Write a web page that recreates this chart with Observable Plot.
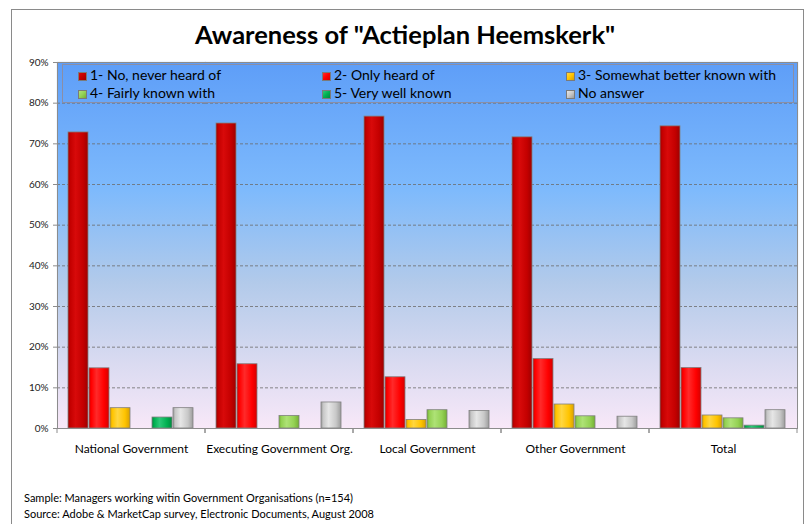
<!DOCTYPE html>
<html><head><meta charset="utf-8">
<script src="https://cdn.jsdelivr.net/npm/d3@7"></script>
<script src="https://cdn.jsdelivr.net/npm/@observablehq/plot@0.6"></script>
<style>
body{margin:0;background:#fff;font-family:Lato,"Open Sans",sans-serif;}
#wrap{position:relative;width:808px;height:524px;overflow:hidden;}
#border{position:absolute;left:11px;top:9px;width:793px;height:540px;border:1px solid #8a8a8a;box-sizing:border-box;}
#title{position:absolute;left:0;width:810px;top:19px;text-align:center;font-weight:bold;font-size:25.5px;color:#000;}
#chart{position:absolute;left:0;top:56px;}
#legend{position:absolute;left:62px;top:64px;width:732px;height:39px;border:1px solid #8a8ea6;box-sizing:border-box;}
.item{position:absolute;font-size:14px;line-height:16px;color:#000;white-space:nowrap;}
.sw{display:inline-block;width:9px;height:9px;border:1px solid #7a7a7a;box-sizing:border-box;margin-right:3px;vertical-align:-1px;}
#notes{position:absolute;left:24px;top:490px;font-size:11px;line-height:16px;color:#000;}
</style></head>
<body>
<div id="wrap">
  <div id="border"></div>
  <div id="title">Awareness of "Actieplan Heemskerk"</div>
  <div id="chart"></div>
  <div id="legend"></div>
  <div id="notes"><div>Sample: Managers working witin Government Organisations (n=154)</div><div>Source: Adobe &amp; MarketCap survey, Electronic Documents, August 2008</div></div>
</div>
<script>
const categories = ["National Government", "Executing Government Org.", "Local Government", "Other Government", "Total"];
const series = ["1- No, never heard of", "2- Only heard of", "3- Somewhat better known with", "4- Fairly known with", "5- Very well known", "No answer"];
const nationalGov  = [72.8, 14.8, 5.0, 0,   2.7, 5.0];
const executingGov = [75.0, 15.8, 0,   3.1, 0,   6.4];
const localGov     = [76.7, 12.6, 2.1, 4.5, 0,   4.3];
const otherGov     = [71.6, 17.1, 5.9, 3.0, 0,   2.9];
const total        = [74.3, 14.9, 3.2, 2.5, 0.7, 4.5];
const yTicks = [0, 10, 20, 30, 40, 50, 60, 70, 80, 90];

const rows = [nationalGov, executingGov, localGov, otherGov, total];
const data = [];
categories.forEach((c, ci) => series.forEach((s, si) => data.push({cat: c, series: s, value: rows[ci][si]})));

// gradient stops for bars: [edge, highlight, base]
const barColors = [
  ["#9e0000", "#d80a0a", "#c40000"],
  ["#d40000", "#ff2a2a", "#ff0000"],
  ["#d9a000", "#ffd640", "#ffc400"],
  ["#74b034", "#aee276", "#94d154"],
  ["#008a40", "#2cc878", "#00b050"],
  ["#9c9c9c", "#e6e6e6", "#c8c8c8"]
];

function boundaryTicks(index, scales, values, dimensions) {
  const {width, height, marginLeft, marginRight, marginBottom} = dimensions;
  const yb = height - marginBottom;
  const g = d3.create("svg:g").attr("stroke", "#8c8c8c").attr("stroke-width", 1);
  [marginLeft, width - marginRight].forEach(x =>
    g.append("line").attr("x1", x).attr("x2", x).attr("y1", yb).attr("y2", yb + 5));
  return g.node();
}

const chart = Plot.plot({
  width: 808,
  height: 414,
  marginTop: 6,
  marginBottom: 42,
  marginLeft: 56,
  marginRight: 10,
  style: {fontFamily: "Lato, 'Open Sans', sans-serif", fontSize: "10px", color: "#000", background: "transparent"},
  fx: {domain: categories, padding: 0},
  x: {domain: series, paddingInner: 0.04, paddingOuter: 0.42, axis: null},
  y: {domain: [0, 90]},
  color: {domain: series, range: series.map((_, i) => `url(#barGrad${i})`)},
  marks: [
    Plot.frame({fill: "url(#plotBg)", stroke: "url(#plotBg)", strokeWidth: 1.2}),
    Plot.gridY(yTicks.slice(1, -1), {stroke: "#6c6c6c", strokeOpacity: 1, strokeWidth: 0.8, strokeDasharray: "3,2"}),
    Plot.barY(data.filter(d => d.value > 0), {fx: "cat", x: "series", y: "value", fill: "series", stroke: "#808080", strokeWidth: 0.8}),
    Plot.frame({anchor: "top", stroke: "#8c8c8c"}),
    Plot.frame({anchor: "left", stroke: "#8c8c8c", facetAnchor: "left"}),
    Plot.frame({anchor: "right", stroke: "#8c8c8c", facetAnchor: "right"}),
    Plot.ruleY([0], {stroke: "#8c8c8c", strokeWidth: 1.2}),
    Plot.axisY({ticks: yTicks, tickFormat: d => d + "%", tickSize: 4, tickPadding: 5, fontSize: 10, stroke: "#8c8c8c", fill: "#222", label: null}),
    Plot.axisFx({anchor: "bottom", tickSize: 0, tickPadding: 16, fontSize: 12, fill: "#000", label: null}),
    boundaryTicks
  ]
});

// gradient definitions
const svgNS = "http://www.w3.org/2000/svg";
const defs = document.createElementNS(svgNS, "defs");
function addGrad(id, vertical, stops) {
  const lg = document.createElementNS(svgNS, "linearGradient");
  lg.setAttribute("id", id);
  lg.setAttribute("x1", "0"); lg.setAttribute("y1", "0");
  lg.setAttribute("x2", vertical ? "0" : "1"); lg.setAttribute("y2", vertical ? "1" : "0");
  stops.forEach(([o, c]) => {
    const s = document.createElementNS(svgNS, "stop");
    s.setAttribute("offset", o); s.setAttribute("stop-color", c);
    lg.appendChild(s);
  });
  defs.appendChild(lg);
}
addGrad("plotBg", true, [[0, "#5e9ef8"], [0.35, "#7ebafc"], [0.6, "#b2caea"], [0.8, "#d6d9f0"], [1, "#f8e8f8"]]);
barColors.forEach(([edge, hi, base], i) =>
  addGrad(`barGrad${i}`, false, [[0, edge], [0.12, base], [0.38, hi], [0.75, base], [1, edge]]));
chart.insertBefore(defs, chart.firstChild);
document.getElementById("chart").appendChild(chart);

// legend
const legend = document.getElementById("legend");
const colLeft = [15, 259, 503];
series.forEach((s, i) => {
  const [edge, hi, base] = barColors[i];
  const it = document.createElement("div");
  it.className = "item";
  it.style.left = colLeft[i % 3] + "px";
  it.style.top = (2 + Math.floor(i / 3) * 18) + "px";
  it.innerHTML = `<span class="sw" style="background:linear-gradient(135deg, ${hi}, ${base} 50%, ${edge})"></span>${s}`;
  legend.appendChild(it);
});
</script>
</body></html>
